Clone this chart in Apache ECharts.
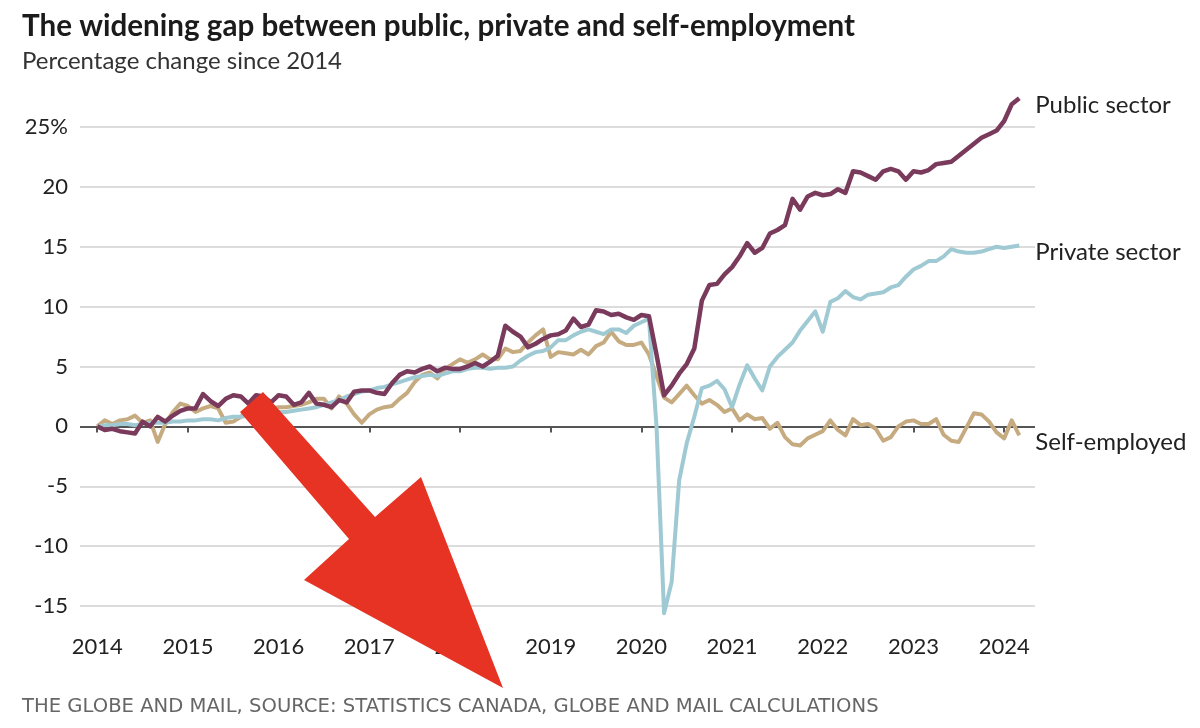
<!DOCTYPE html>
<html>
<head>
<meta charset="utf-8">
<style>
  html, body { margin: 0; height: 100%; background: #fff; }
  #chart { width: 1200px; height: 728px; }
</style>
</head>
<body>
<div id="chart"></div>
<script src="https://cdn.jsdelivr.net/npm/echarts@6/dist/echarts.min.js"></script>
<script>
// Monthly, Jan 2014 - Mar 2024, percentage change since Jan 2014
var startYear = 2014;
var yearTicks = [2014, 2015, 2016, 2017, 2018, 2019, 2020, 2021, 2022, 2023, 2024];
var seriesNames = ['Public sector', 'Private sector', 'Self-employed'];

var publicSector = [
  0, -0.3, -0.2, -0.4, -0.5, -0.6, 0.4, 0.0, 0.8, 0.4, 0.9, 1.3,
  1.5, 1.5, 2.7, 2.1, 1.7, 2.3, 2.6, 2.5, 1.9, 2.6, 2.5, 2.0,
  2.6, 2.5, 1.8, 2.0, 2.8, 1.9, 1.8, 1.6, 2.2, 2.0, 2.9, 3.0,
  3.0, 2.8, 2.7, 3.6, 4.3, 4.6, 4.5, 4.8, 5.0, 4.6, 4.9, 4.8,
  4.8, 5.0, 5.3, 5.0, 5.4, 5.9, 8.4, 7.9, 7.5, 6.6, 6.9, 7.3,
  7.6, 7.7, 8.0, 9.0, 8.3, 8.5, 9.7, 9.6, 9.3, 9.4, 9.1, 8.9,
  9.3, 9.2, 6.0, 2.6, 3.4, 4.4, 5.2, 6.5, 10.5, 11.8, 11.9, 12.7,
  13.3, 14.2, 15.3, 14.5, 14.9, 16.1, 16.4, 16.8, 19.0, 18.1, 19.2, 19.5,
  19.3, 19.4, 19.8, 19.5, 21.3, 21.2, 20.9, 20.6, 21.3, 21.5, 21.3, 20.6,
  21.3, 21.2, 21.4, 21.9, 22.0, 22.1, 22.6, 23.1, 23.6, 24.1, 24.4, 24.7,
  25.5, 26.9, 27.4
];

var privateSector = [
  0, 0.1, 0.1, 0.2, 0.2, 0.1, 0.2, 0.3, 0.3, 0.3, 0.4, 0.4,
  0.5, 0.5, 0.6, 0.6, 0.5, 0.7, 0.8, 0.8, 0.9, 1.0, 1.0, 1.1,
  1.2, 1.2, 1.3, 1.4, 1.5, 1.6, 1.8, 2.0, 2.2, 2.5, 2.7, 2.9,
  3.0, 3.2, 3.3, 3.5, 3.7, 3.9, 4.1, 4.2, 4.3, 4.2, 4.4, 4.6,
  4.6, 4.8, 4.9, 4.9, 4.8, 4.9, 4.9, 5.0, 5.5, 5.9, 6.2, 6.3,
  6.6, 7.2, 7.2, 7.6, 7.9, 8.1, 7.9, 7.7, 8.1, 8.1, 7.8, 8.4,
  8.7, 9.0, 0.0, -15.6, -13.0, -4.5, -1.4, 0.8, 3.2, 3.4, 3.8, 3.1,
  1.6, 3.5, 5.1, 4.0, 3.0, 5.0, 5.8, 6.4, 7.0, 8.0, 8.8, 9.6,
  7.9, 10.4, 10.7, 11.3, 10.8, 10.6, 11.0, 11.1, 11.2, 11.6, 11.8, 12.5,
  13.1, 13.4, 13.8, 13.8, 14.2, 14.8, 14.6, 14.5, 14.5, 14.6, 14.8, 15.0,
  14.9, 15.0, 15.1
];

var selfEmployed = [
  0, 0.5, 0.2, 0.5, 0.6, 0.9, 0.3, 0.5, -1.3, 0.2, 1.2, 1.9,
  1.7, 1.2, 1.5, 1.7, 1.5, 0.3, 0.4, 0.8, 1.4, 1.3, 1.6, 1.5,
  1.6, 1.6, 1.7, 1.8, 2.0, 2.3, 2.3, 1.5, 2.5, 1.9, 1.0, 0.3,
  1.0, 1.4, 1.6, 1.7, 2.3, 2.8, 3.7, 4.3, 4.5, 4.0, 4.8, 5.2,
  5.6, 5.3, 5.6, 6.0, 5.6, 5.6, 6.5, 6.2, 6.3, 7.0, 7.6, 8.1,
  5.8, 6.2, 6.1, 6.0, 6.4, 6.0, 6.7, 7.0, 7.9, 7.1, 6.8, 6.8,
  7.0, 6.0, 4.2, 2.4, 2.0, 2.7, 3.4, 2.6, 1.9, 2.2, 1.8, 1.2,
  1.5, 0.5, 1.0, 0.6, 0.7, -0.2, 0.3, -0.9, -1.5, -1.6, -1.0, -0.7,
  -0.4, 0.5, -0.3, -0.75, 0.6, 0.1, 0.2, -0.2, -1.2, -0.9, 0.0, 0.4,
  0.5, 0.2, 0.2, 0.6, -0.7, -1.2, -1.3, -0.1, 1.1, 1.0, 0.4, -0.5,
  -1.0, 0.5, -0.75
];

function toPoints(values) {
  return values.map(function (v, i) { return [startYear + i / 12, v]; });
}

var chart = echarts.init(document.getElementById('chart'));
var FONT = 'Lato';
var gridColor = '#dcdcdc';

function lineSeries(name, values, color, width, z) {
  return {
    name: name,
    type: 'line',
    data: toPoints(values),
    showSymbol: false,
    clip: false,
    z: z,
    lineStyle: { color: color, width: width, join: 'round' },
    endLabel: {
      show: true,
      formatter: name,
      color: '#222',
      fontFamily: FONT,
      fontSize: 24,
      distance: 16,
      offset: [0, 7]
    }
  };
}

var option = {
  animation: false,
  backgroundColor: '#fff',
  textStyle: { fontFamily: FONT },
  title: [
    {
      text: 'The widening gap between public, private and self-employment',
      left: 17, top: 6,
      textStyle: { fontFamily: FONT, fontSize: 29.6, fontWeight: 'bold', color: '#1b1b1b' }
    },
    {
      text: 'Percentage change since 2014',
      left: 17, top: 44,
      textStyle: { fontFamily: FONT, fontSize: 24, fontWeight: 'normal', color: '#333' }
    },
    {
      text: 'THE GLOBE AND MAIL, SOURCE: STATISTICS CANADA, GLOBE AND MAIL CALCULATIONS',
      left: 17, top: 692,
      textStyle: { fontFamily: 'DejaVu Sans', fontSize: 19.6, fontWeight: 'normal', color: '#666' }
    }
  ],
  grid: { left: 80, right: 165, top: 127, bottom: 122 },
  xAxis: {
    type: 'value',
    min: 2013.81,
    max: 2024.34,
    offset: 8,
    axisLine: { show: false },
    splitLine: { show: false },
    axisTick: {
      show: true,
      customValues: yearTicks,
      length: 6,
      lineStyle: { color: '#555', width: 2 }
    },
    axisLabel: {
      customValues: yearTicks,
      formatter: function (v) { return String(Math.round(v)); },
      color: '#222',
      fontFamily: FONT,
      fontSize: 22,
      margin: 22
    }
  },
  yAxis: {
    type: 'value',
    min: -15,
    max: 25,
    interval: 5,
    axisLine: { show: false },
    axisTick: { show: false },
    axisLabel: {
      formatter: function (v) { return v === 25 ? '25%' : String(v); },
      color: '#222',
      fontFamily: FONT,
      fontSize: 22,
      margin: 12
    },
    splitLine: {
      show: true,
      lineStyle: {
        width: 2,
        color: [gridColor, gridColor, gridColor, '#555', gridColor, gridColor, gridColor, gridColor, gridColor]
      }
    }
  },
  series: [
    lineSeries(seriesNames[2], selfEmployed, '#c6ab80', 4, 2),
    lineSeries(seriesNames[1], privateSector, '#9fcad4', 4, 3),
    lineSeries(seriesNames[0], publicSector, '#7a3a5c', 4.5, 4)
  ],
  graphic: [
    {
      type: 'polygon',
      z: 100,
      shape: {
        points: [[240, 412], [263, 392], [375, 517], [421, 477], [503, 688], [304, 580], [349, 539]]
      },
      style: { fill: '#e63323' }
    }
  ]
};

chart.setOption(option);
</script>
</body>
</html>
